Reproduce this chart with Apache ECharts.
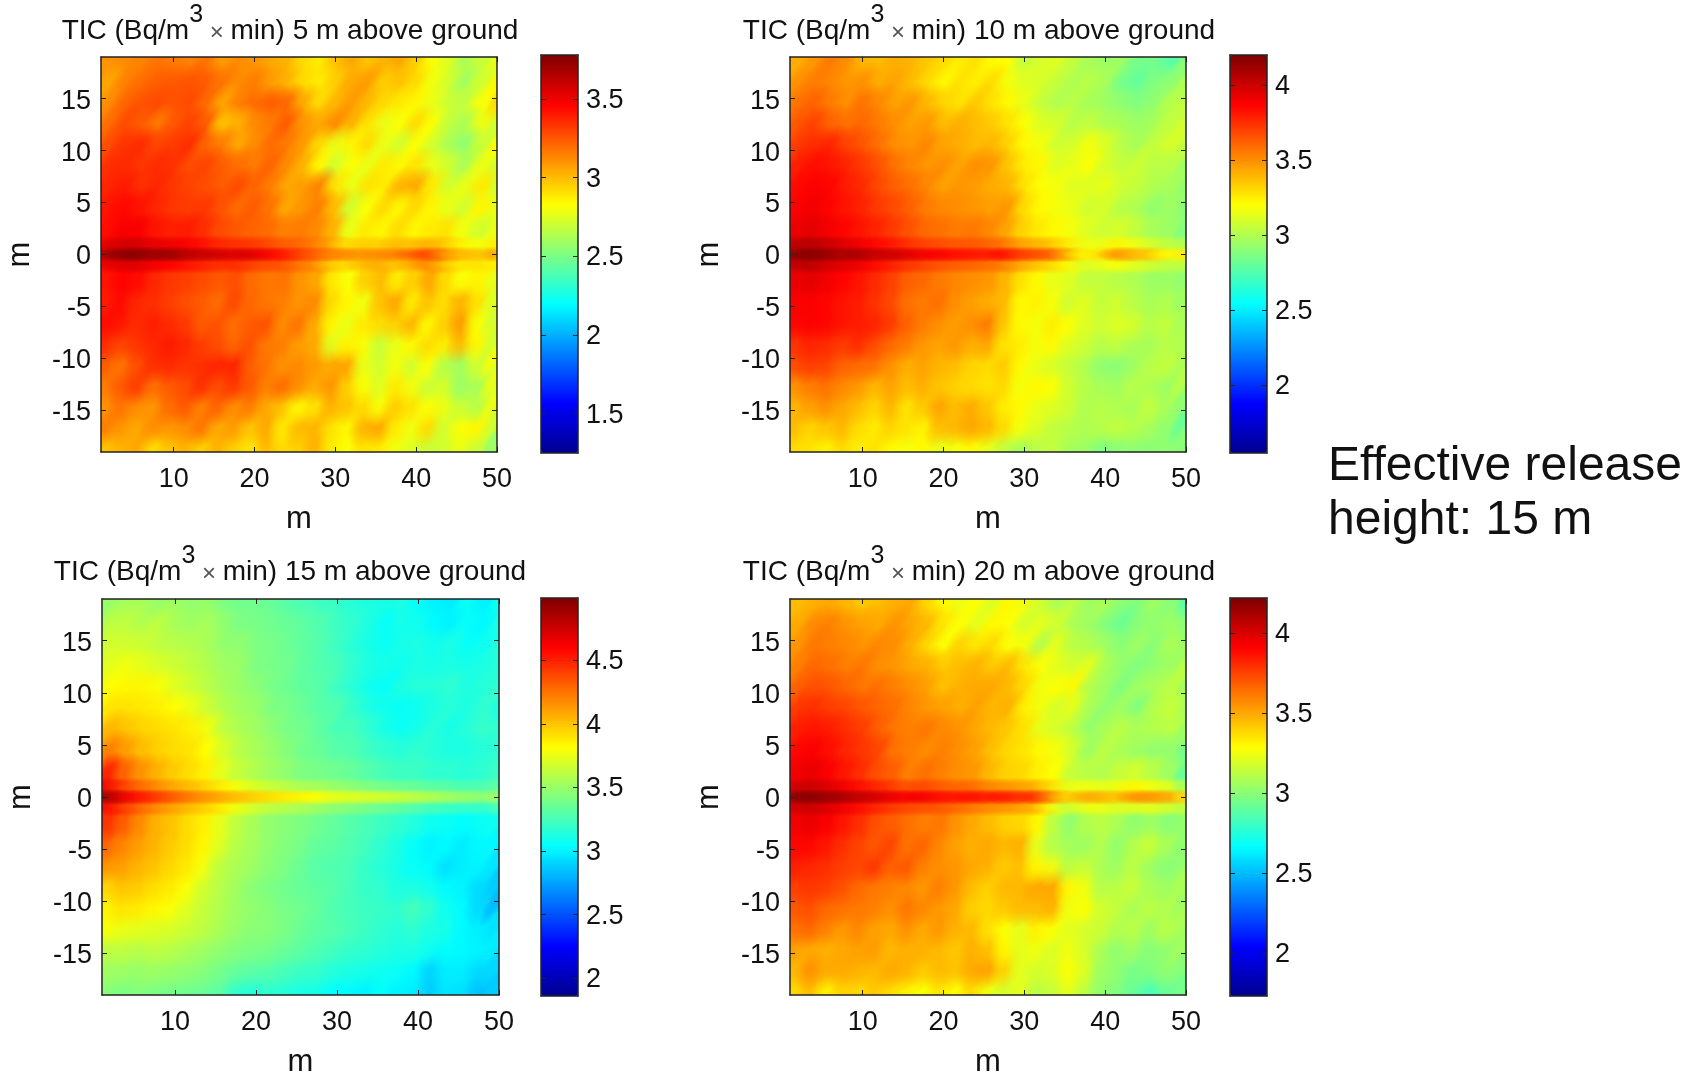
<!DOCTYPE html>
<html>
<head>
<meta charset="utf-8">
<title>TIC</title>
<script src="https://cdn.jsdelivr.net/npm/echarts@6/dist/echarts.min.js"></script>
<style>
	html, body { margin: 0; padding: 0; background: #fff; }
	#main { width: 1700px; height: 1074px; }
</style>
</head>
<body>
<div id="main"></div>
<script>
// distance along the plume (m) and across it (m)
const xCols = [2,4,6,8,10,12,14,16,18,20,22,24,26,28,30,32,34,36,38,40,42,44,46,48,50];
const yRows = [18,16,14,12,10,8,6,4,2,0.8,0,-0.8,-2,-4,-6,-8,-10,-12,-14,-16,-18];

const xTicks = [10,20,30,40,50];
const yTicks = [-15,-10,-5,0,5,10,15];

// values, one row per yRows entry
const tic5 = [
[3.10,3.12,3.14,3.18,3.16,3.14,3.18,3.08,3.12,3.10,3.05,3.02,2.92,2.88,2.98,3.05,2.98,3.02,3.05,2.95,2.82,2.75,2.62,2.70,2.78],
[3.05,3.15,3.20,3.24,3.25,3.26,3.24,3.18,3.12,3.16,3.08,3.02,2.92,2.88,2.95,3.05,3.08,2.95,2.98,2.92,2.80,2.72,2.60,2.72,2.85],
[3.12,3.22,3.26,3.28,3.26,3.28,3.20,3.05,3.15,3.20,3.24,3.22,3.05,2.92,3.02,3.08,3.00,2.92,2.88,2.85,2.78,2.70,2.68,2.82,2.92],
[3.20,3.28,3.24,3.16,3.25,3.30,3.24,2.98,3.02,3.12,3.16,3.24,3.10,3.05,3.12,3.02,2.90,2.78,2.82,2.92,2.82,2.68,2.62,2.78,2.72],
[3.28,3.34,3.36,3.30,3.32,3.35,3.22,3.16,3.05,3.12,3.20,3.16,3.08,2.92,2.78,2.85,2.92,2.78,2.72,2.82,2.72,2.62,2.55,2.70,2.82],
[3.35,3.36,3.33,3.36,3.34,3.27,3.30,3.24,3.20,3.16,3.22,3.12,3.02,2.85,2.72,2.82,2.78,2.88,2.85,2.90,2.78,2.72,2.62,2.78,2.72],
[3.38,3.40,3.35,3.37,3.33,3.30,3.27,3.24,3.28,3.22,3.15,3.05,3.08,3.15,2.90,2.78,2.90,2.88,3.02,3.05,2.88,2.72,2.78,2.88,2.72],
[3.42,3.45,3.42,3.37,3.33,3.32,3.33,3.26,3.20,3.24,3.18,3.05,3.10,3.15,3.00,2.72,2.82,2.92,2.85,2.92,2.85,2.78,2.72,2.85,2.78],
[3.44,3.48,3.48,3.42,3.39,3.40,3.35,3.28,3.25,3.22,3.20,3.15,3.16,3.12,3.02,2.78,2.88,2.85,2.92,2.85,2.88,2.90,2.80,2.72,2.78],
[3.52,3.57,3.58,3.52,3.51,3.48,3.44,3.38,3.35,3.34,3.30,3.24,3.22,3.16,3.06,2.90,2.96,2.94,3.00,2.98,3.03,2.98,2.87,2.81,2.87],
[3.68,3.74,3.76,3.70,3.72,3.64,3.60,3.58,3.54,3.56,3.48,3.42,3.32,3.24,3.14,3.12,3.10,3.12,3.14,3.22,3.30,3.12,3.00,2.98,3.04],
[3.51,3.54,3.55,3.49,3.47,3.43,3.39,3.35,3.36,3.32,3.27,3.27,3.18,3.12,2.97,2.92,3.00,3.04,2.97,3.04,3.14,2.99,2.88,2.90,2.87],
[3.42,3.46,3.44,3.37,3.33,3.31,3.28,3.25,3.27,3.20,3.17,3.18,3.10,3.05,2.88,2.82,2.95,3.00,2.88,2.95,3.05,2.92,2.82,2.85,2.78],
[3.40,3.44,3.37,3.35,3.31,3.27,3.24,3.20,3.28,3.21,3.17,3.15,3.10,3.12,2.92,2.85,2.80,2.98,3.05,2.88,2.98,2.92,3.02,2.90,2.75],
[3.44,3.41,3.36,3.39,3.36,3.32,3.24,3.26,3.19,3.24,3.26,3.12,3.18,3.04,2.85,2.78,2.88,2.92,2.95,3.02,2.85,2.95,3.08,2.82,2.72],
[3.36,3.30,3.34,3.37,3.40,3.37,3.31,3.27,3.21,3.26,3.17,3.15,3.08,3.04,2.76,2.85,2.82,2.70,2.78,2.85,2.92,2.88,3.00,2.85,2.72],
[3.24,3.18,3.27,3.35,3.37,3.34,3.35,3.37,3.38,3.23,3.18,3.10,3.12,3.08,3.04,3.05,2.78,2.72,2.80,2.72,2.82,2.65,2.60,2.72,2.80],
[3.16,3.25,3.32,3.20,3.25,3.28,3.35,3.28,3.33,3.25,3.15,3.20,3.12,3.05,3.10,2.95,2.82,2.75,2.88,2.80,2.70,2.72,2.58,2.62,2.78],
[3.10,3.18,3.12,3.10,3.20,3.25,3.15,3.22,3.12,3.16,3.05,2.98,2.85,2.90,3.02,2.98,2.92,2.82,2.95,2.90,2.82,2.78,2.70,2.65,2.78],
[3.16,3.10,3.05,3.12,3.10,3.12,3.18,3.05,3.08,2.98,3.05,2.88,3.00,3.02,2.90,2.85,3.02,3.05,2.88,2.80,2.92,2.72,2.82,2.85,2.72],
[2.98,3.02,3.05,2.92,2.98,3.02,2.95,3.02,2.95,2.90,3.00,2.92,2.95,3.02,2.88,2.82,2.90,2.88,2.80,2.75,2.70,2.72,2.78,2.70,2.58]
];
const tic10 = [
[3.42,3.48,3.55,3.50,3.40,3.38,3.42,3.40,3.35,3.30,3.25,3.28,3.22,3.20,3.05,3.10,3.12,3.05,2.98,2.95,2.95,2.85,2.85,2.78,2.90],
[3.50,3.55,3.52,3.48,3.50,3.42,3.45,3.38,3.30,3.22,3.28,3.25,3.30,3.18,3.12,3.10,3.05,3.00,3.02,2.98,2.85,2.80,2.88,2.92,3.00],
[3.58,3.62,3.55,3.50,3.58,3.52,3.45,3.48,3.40,3.32,3.28,3.35,3.28,3.22,3.15,3.05,3.00,3.02,2.98,2.95,2.92,2.88,2.92,3.02,3.05],
[3.65,3.70,3.62,3.58,3.60,3.55,3.50,3.45,3.48,3.38,3.42,3.38,3.35,3.28,3.20,3.12,3.10,3.02,3.05,3.00,2.98,2.95,2.98,3.05,3.10],
[3.72,3.76,3.78,3.70,3.65,3.58,3.50,3.48,3.52,3.45,3.42,3.38,3.40,3.32,3.22,3.18,3.08,3.10,3.18,3.12,3.02,2.98,3.05,3.10,3.05],
[3.80,3.84,3.82,3.78,3.72,3.66,3.58,3.52,3.48,3.50,3.45,3.50,3.48,3.36,3.25,3.22,3.12,3.15,3.20,3.10,3.05,3.08,3.02,3.02,2.95],
[3.85,3.88,3.86,3.80,3.76,3.68,3.62,3.58,3.52,3.45,3.48,3.46,3.42,3.40,3.28,3.20,3.18,3.12,3.12,3.15,3.08,3.05,3.00,2.98,2.92],
[3.88,3.90,3.86,3.82,3.78,3.72,3.68,3.62,3.55,3.52,3.50,3.48,3.46,3.48,3.30,3.22,3.18,3.15,3.08,3.10,3.02,3.00,2.92,2.95,2.90],
[3.92,3.94,3.90,3.86,3.82,3.78,3.72,3.66,3.60,3.58,3.55,3.56,3.52,3.44,3.32,3.26,3.22,3.18,3.12,3.08,3.10,3.05,2.98,2.95,2.88],
[4.04,4.06,4.02,3.96,3.92,3.86,3.82,3.76,3.70,3.68,3.65,3.65,3.62,3.58,3.46,3.41,3.36,3.26,3.16,3.16,3.24,3.17,3.11,3.04,3.01],
[4.16,4.18,4.14,4.08,4.10,4.02,4.00,3.96,3.90,3.88,3.84,3.82,3.80,3.84,3.72,3.68,3.62,3.40,3.22,3.30,3.50,3.40,3.35,3.22,3.25],
[4.03,4.05,3.99,3.95,3.92,3.85,3.80,3.74,3.70,3.66,3.63,3.61,3.59,3.55,3.44,3.37,3.31,3.22,3.11,3.14,3.19,3.14,3.09,3.05,3.04],
[3.92,3.94,3.90,3.86,3.82,3.76,3.70,3.62,3.60,3.55,3.52,3.50,3.48,3.40,3.28,3.22,3.15,3.12,3.05,3.05,3.02,3.00,2.95,2.95,2.92],
[3.88,3.88,3.86,3.82,3.80,3.74,3.68,3.58,3.55,3.58,3.50,3.46,3.42,3.38,3.22,3.24,3.18,3.08,3.12,3.05,3.08,3.02,2.98,3.00,2.95],
[3.86,3.88,3.86,3.82,3.80,3.78,3.72,3.62,3.55,3.50,3.46,3.50,3.55,3.35,3.22,3.18,3.25,3.20,3.12,3.08,3.12,3.10,3.02,3.05,2.98],
[3.74,3.78,3.76,3.72,3.76,3.68,3.60,3.55,3.48,3.45,3.48,3.42,3.44,3.28,3.25,3.18,3.22,3.12,3.08,3.02,3.05,3.00,2.98,3.02,3.00],
[3.68,3.72,3.70,3.62,3.60,3.58,3.50,3.42,3.45,3.40,3.38,3.32,3.30,3.34,3.22,3.15,3.10,3.05,3.00,2.92,2.90,2.95,3.02,3.05,3.00],
[3.50,3.55,3.58,3.52,3.48,3.40,3.45,3.38,3.42,3.36,3.32,3.30,3.28,3.30,3.18,3.22,3.20,3.08,3.02,2.98,2.96,3.02,3.00,2.95,3.02],
[3.40,3.46,3.50,3.44,3.38,3.32,3.40,3.28,3.35,3.45,3.38,3.42,3.35,3.25,3.22,3.15,3.12,3.08,3.00,3.02,3.00,2.98,3.05,2.98,2.92],
[3.38,3.32,3.36,3.40,3.30,3.26,3.32,3.28,3.24,3.38,3.40,3.44,3.40,3.30,3.18,3.12,3.05,3.02,3.00,3.02,3.05,3.02,2.98,2.92,2.82],
[3.30,3.28,3.24,3.30,3.25,3.28,3.22,3.18,3.22,3.15,3.18,3.22,3.15,3.05,2.98,3.02,3.05,2.98,2.95,2.88,2.90,2.92,2.90,2.92,2.90]
];
const tic15 = [
[3.50,3.55,3.55,3.50,3.52,3.48,3.50,3.42,3.38,3.38,3.35,3.30,3.26,3.22,3.20,3.15,3.12,3.10,3.12,3.05,3.00,2.98,3.06,3.00,3.08],
[3.62,3.62,3.58,3.62,3.55,3.52,3.55,3.48,3.42,3.40,3.38,3.35,3.32,3.28,3.22,3.18,3.12,3.05,3.10,3.08,3.02,3.00,3.05,3.02,3.10],
[3.68,3.68,3.66,3.62,3.60,3.58,3.55,3.48,3.48,3.42,3.40,3.36,3.32,3.28,3.22,3.15,3.10,3.06,3.10,3.12,3.08,3.12,3.05,3.08,3.15],
[3.74,3.78,3.74,3.70,3.66,3.62,3.58,3.52,3.50,3.42,3.40,3.38,3.32,3.28,3.25,3.18,3.12,3.10,3.08,3.12,3.10,3.12,3.10,3.12,3.15],
[3.82,3.84,3.84,3.80,3.72,3.66,3.60,3.54,3.50,3.46,3.40,3.36,3.32,3.30,3.22,3.15,3.08,3.05,3.12,3.15,3.15,3.18,3.12,3.15,3.18],
[3.90,3.90,3.88,3.86,3.82,3.76,3.66,3.58,3.53,3.50,3.42,3.40,3.35,3.30,3.28,3.20,3.12,3.08,3.05,3.08,3.12,3.15,3.12,3.18,3.12],
[4.05,4.00,3.95,3.92,3.90,3.86,3.78,3.62,3.56,3.52,3.46,3.40,3.38,3.32,3.25,3.25,3.18,3.10,3.06,3.10,3.15,3.10,3.15,3.20,3.18],
[4.22,4.12,4.02,3.96,3.92,3.90,3.82,3.70,3.60,3.55,3.50,3.44,3.38,3.35,3.30,3.28,3.22,3.18,3.15,3.18,3.15,3.12,3.12,3.15,3.18],
[4.50,4.30,4.16,4.06,3.98,3.92,3.86,3.74,3.64,3.58,3.52,3.48,3.42,3.40,3.38,3.35,3.30,3.25,3.22,3.22,3.18,3.18,3.15,3.18,3.22],
[4.65,4.43,4.30,4.20,4.11,4.04,3.98,3.89,3.80,3.72,3.66,3.62,3.57,3.55,3.51,3.48,3.44,3.40,3.37,3.36,3.32,3.31,3.27,3.28,3.32],
[4.94,4.68,4.55,4.45,4.35,4.25,4.16,4.10,4.02,3.98,3.92,3.88,3.85,3.82,3.74,3.72,3.70,3.68,3.65,3.62,3.58,3.54,3.50,3.48,3.52],
[4.62,4.44,4.31,4.20,4.12,4.04,3.98,3.90,3.79,3.70,3.63,3.60,3.57,3.53,3.48,3.45,3.41,3.38,3.34,3.31,3.25,3.23,3.20,3.21,3.25],
[4.45,4.32,4.18,4.06,4.00,3.92,3.86,3.74,3.62,3.55,3.48,3.45,3.42,3.38,3.34,3.30,3.26,3.22,3.18,3.14,3.08,3.06,3.04,3.06,3.08],
[4.30,4.20,4.12,4.05,3.98,3.92,3.84,3.72,3.60,3.54,3.48,3.44,3.40,3.34,3.32,3.28,3.24,3.18,3.12,3.05,3.00,3.02,2.98,3.02,3.02],
[4.15,4.12,4.05,4.00,3.94,3.88,3.78,3.62,3.56,3.52,3.46,3.42,3.36,3.30,3.28,3.26,3.20,3.15,3.10,3.05,3.02,2.94,2.98,3.00,2.96],
[3.95,4.00,3.98,3.92,3.88,3.80,3.68,3.60,3.53,3.46,3.42,3.38,3.35,3.32,3.30,3.25,3.20,3.18,3.12,3.12,3.08,3.02,3.00,2.92,2.88],
[3.85,3.90,3.88,3.84,3.80,3.72,3.64,3.58,3.52,3.48,3.45,3.40,3.38,3.34,3.28,3.25,3.22,3.20,3.18,3.25,3.18,3.08,3.02,2.92,2.82],
[3.80,3.76,3.74,3.72,3.70,3.66,3.62,3.56,3.50,3.46,3.45,3.42,3.36,3.32,3.30,3.26,3.22,3.18,3.15,3.18,3.12,3.10,3.02,2.98,2.95],
[3.62,3.62,3.60,3.62,3.60,3.56,3.52,3.48,3.44,3.42,3.40,3.36,3.32,3.28,3.24,3.20,3.18,3.15,3.12,3.12,3.08,3.04,3.02,3.00,2.98],
[3.52,3.52,3.50,3.52,3.50,3.48,3.45,3.40,3.35,3.32,3.30,3.26,3.22,3.20,3.15,3.12,3.10,3.08,3.06,3.02,2.90,2.98,2.98,2.92,2.92],
[3.45,3.42,3.44,3.42,3.40,3.38,3.36,3.32,3.20,3.15,3.18,3.15,3.12,3.10,3.04,3.02,3.00,3.04,3.00,2.98,2.88,2.96,2.94,2.85,2.88]
];
const tic20 = [
[3.45,3.48,3.50,3.46,3.42,3.45,3.48,3.50,3.38,3.30,3.24,3.28,3.20,3.30,3.25,3.18,3.08,3.12,3.05,3.08,3.00,2.98,3.05,3.00,2.88],
[3.50,3.58,3.60,3.55,3.52,3.50,3.55,3.50,3.46,3.35,3.28,3.22,3.30,3.28,3.18,3.22,3.18,3.08,3.05,2.98,2.92,3.00,3.02,3.05,3.00],
[3.55,3.62,3.60,3.58,3.55,3.58,3.56,3.48,3.38,3.28,3.40,3.35,3.38,3.28,3.26,3.10,3.22,3.12,3.10,3.05,3.00,3.05,3.00,3.08,3.05],
[3.60,3.66,3.64,3.60,3.62,3.56,3.54,3.50,3.48,3.42,3.45,3.48,3.42,3.46,3.35,3.28,3.22,3.18,3.22,3.08,3.02,2.98,3.02,3.05,3.12],
[3.68,3.72,3.70,3.66,3.62,3.64,3.60,3.56,3.52,3.44,3.48,3.50,3.50,3.46,3.38,3.25,3.28,3.30,3.10,3.05,2.98,3.05,3.08,3.12,3.05],
[3.78,3.80,3.76,3.74,3.70,3.66,3.64,3.58,3.54,3.52,3.48,3.52,3.46,3.48,3.32,3.25,3.18,3.22,3.08,3.02,3.05,2.98,3.10,3.15,3.08],
[3.84,3.86,3.84,3.80,3.76,3.68,3.62,3.60,3.62,3.58,3.55,3.50,3.45,3.42,3.36,3.22,3.18,3.12,3.02,3.08,3.12,3.08,3.10,3.12,3.05],
[3.90,3.92,3.88,3.82,3.78,3.74,3.63,3.60,3.57,3.60,3.56,3.52,3.44,3.38,3.35,3.30,3.26,3.18,3.05,3.12,3.08,3.05,3.02,3.02,2.95],
[3.94,3.96,3.92,3.86,3.80,3.72,3.68,3.60,3.64,3.60,3.56,3.54,3.46,3.40,3.38,3.32,3.28,3.15,3.12,3.10,3.15,3.18,3.12,3.05,2.92],
[4.02,4.04,4.00,3.95,3.89,3.83,3.78,3.71,3.74,3.70,3.66,3.66,3.59,3.56,3.53,3.49,3.37,3.23,3.25,3.23,3.24,3.31,3.27,3.21,3.08],
[4.18,4.20,4.16,4.12,4.06,4.02,3.96,3.92,3.94,3.88,3.86,3.88,3.84,3.86,3.80,3.80,3.55,3.38,3.50,3.48,3.42,3.55,3.55,3.50,3.38],
[4.02,4.04,4.00,3.95,3.89,3.83,3.78,3.74,3.72,3.71,3.66,3.63,3.58,3.56,3.53,3.47,3.27,3.15,3.24,3.25,3.20,3.21,3.23,3.18,3.14],
[3.94,3.96,3.92,3.86,3.80,3.72,3.68,3.64,3.60,3.62,3.55,3.50,3.45,3.40,3.38,3.30,3.12,3.02,3.10,3.12,3.08,3.02,3.05,3.00,3.02],
[3.90,3.90,3.86,3.80,3.75,3.70,3.74,3.63,3.66,3.58,3.52,3.48,3.50,3.46,3.48,3.22,3.10,3.06,3.05,3.10,3.02,3.10,3.15,3.08,3.02],
[3.84,3.82,3.80,3.76,3.74,3.78,3.68,3.70,3.60,3.56,3.54,3.50,3.48,3.42,3.44,3.30,3.25,3.12,3.15,3.08,3.05,3.12,3.05,3.00,3.02],
[3.76,3.78,3.76,3.72,3.66,3.62,3.60,3.58,3.54,3.60,3.54,3.45,3.40,3.46,3.46,3.50,3.50,3.30,3.25,3.10,3.12,3.15,3.08,3.05,3.08],
[3.70,3.72,3.66,3.64,3.62,3.60,3.56,3.62,3.58,3.54,3.50,3.40,3.38,3.42,3.46,3.46,3.48,3.25,3.28,3.18,3.14,3.08,3.12,3.10,3.05],
[3.64,3.66,3.60,3.54,3.58,3.52,3.50,3.56,3.50,3.54,3.48,3.46,3.36,3.28,3.22,3.32,3.28,3.22,3.18,3.16,3.10,3.12,3.05,3.12,3.08],
[3.52,3.50,3.48,3.50,3.52,3.53,3.46,3.48,3.48,3.46,3.42,3.48,3.44,3.30,3.22,3.25,3.20,3.25,3.18,3.08,3.02,3.05,3.00,3.02,3.06],
[3.46,3.56,3.50,3.50,3.48,3.46,3.50,3.48,3.42,3.46,3.44,3.50,3.52,3.40,3.22,3.18,3.20,3.28,3.20,3.05,3.02,2.95,2.98,3.02,3.00],
[3.38,3.45,3.32,3.40,3.38,3.42,3.38,3.32,3.28,3.35,3.28,3.38,3.25,3.18,3.22,3.12,3.15,3.22,3.12,3.02,2.98,2.92,2.85,2.92,2.95]
];

const panelNames = ['5 m', '10 m', '15 m', '20 m'];
const panelData = [tic5, tic10, tic15, tic20];
const barMin = [1.25, 1.55, 1.86, 1.73];
const barMax = [3.78, 4.2, 4.99, 4.22];
const barTicks = [
	[1.5,2,2.5,3,3.5],
	[2,2.5,3,3.5,4],
	[2,2.5,3,3.5,4,4.5],
	[2,2.5,3,3.5,4]
];

const jet = ['#00008f','#0000ff','#0080ff','#00ffff','#80ff80','#ffff00','#ff8000','#ff0000','#800000'];
const fontName = '"Liberation Sans", Arial, sans-serif';
const textColor = '#111';

// where each panel sits on the page
const plotBox = [
	{ left: 101, top: 57, width: 396, height: 395, barLeft: 541, barTop: 55, barHeight: 398, titleX: 290, titleY: 5 },
	{ left: 790, top: 57, width: 396, height: 395, barLeft: 1230, barTop: 55, barHeight: 398, titleX: 979, titleY: 5 },
	{ left: 102, top: 599, width: 397, height: 396, barLeft: 541, barTop: 598, barHeight: 398, titleX: 290, titleY: 546 },
	{ left: 790, top: 599, width: 396, height: 396, barLeft: 1230, barTop: 598, barHeight: 398, titleX: 979, titleY: 546 }
];

function cellEdges(list, lo, hi) {
	let out = [];
	for (let i = 0; i < list.length; i++) {
		let a = i == 0 ? lo : (list[i - 1] + list[i]) / 2;
		let b = i == list.length - 1 ? hi : (list[i] + list[i + 1]) / 2;
		out.push([a, b]);
	}
	return out;
}

// rows furthest from the centre line go first so the thin line stays on top
function buildCells(rows) {
	let xe = cellEdges(xCols, 1, 50);
	let ye = cellEdges(yRows, 19, -19);
	let order = yRows.map(function (y, i) { return i; }).sort(function (a, b) {
		return Math.abs(yRows[b]) - Math.abs(yRows[a]);
	});
	let cells = [];
	order.forEach(function (r) {
		rows[r].forEach(function (v, c) {
			cells.push([xe[c][0], xe[c][1], ye[r][0], ye[r][1], v]);
		});
	});
	return cells;
}

// the rows next to the centre line stretch under it, the thin rows only get soft patches
function renderBase(params, api) {
	let y0 = api.value(2), y1 = api.value(3);
	if (Math.abs(y0) < 2 && Math.abs(y1) < 2) {
		return null;
	}
	if (Math.abs(y0) < 2) { y0 = 0; }
	if (Math.abs(y1) < 2) { y1 = 0; }
	let a = api.coord([api.value(0), y0]);
	let b = api.coord([api.value(1), y1]);
	return {
		type: 'rect',
		shape: { x: a[0], y: a[1], width: b[0] - a[0] + 1, height: b[1] - a[1] + 1 },
		style: { fill: api.visual('color') }
	};
}

// soft patch over each cell, leaning like the grain in the picture
function renderSoft(params, api) {
	let a = api.coord([api.value(0), api.value(2)]);
	let b = api.coord([api.value(1), api.value(3)]);
	let color = api.visual('color');
	let w = Math.abs(b[0] - a[0]), h = Math.abs(b[1] - a[1]);
	let thin = h < 15;
	return {
		type: 'circle',
		x: (a[0] + b[0]) / 2,
		y: (a[1] + b[1]) / 2,
		scaleX: thin ? w * 1.6 : w * 1.0,
		scaleY: thin ? h * 1.0 : h * 1.45,
		rotation: thin ? 0 : -0.5,
		shape: { cx: 0, cy: 0, r: 1 },
		style: {
			fill: new echarts.graphic.RadialGradient(0.5, 0.5, 0.5, [
				{ offset: 0, color: color },
				{ offset: thin ? 0.35 : 0.45, color: echarts.color.modifyAlpha(color, 0.8) },
				{ offset: 1, color: echarts.color.modifyAlpha(color, 0) }
			])
		}
	};
}

function frameAxis(extra) {
	return Object.assign({
		type: 'value',
		z: 10,
		splitLine: { show: false },
		axisLine: { show: true, onZero: false, lineStyle: { color: '#222', width: 1.5 } },
		axisTick: { show: false },
		axisLabel: { show: false }
	}, extra);
}

function tickStyle(values) {
	return { show: true, inside: true, length: 5, customValues: values, lineStyle: { color: '#222' } };
}

// drop is how far the digits sit below their tick, as in the picture
function labelStyle(values, margin, drop) {
	return {
		show: true,
		customValues: values,
		margin: margin,
		formatter: function (v) { return '{v|' + v + '}'; },
		rich: { v: { fontSize: 27, fontFamily: fontName, color: textColor, padding: [drop, 0, 0, 0] } }
	};
}

let option = {
	animation: false,
	backgroundColor: '#fff',
	title: [],
	grid: [],
	xAxis: [],
	yAxis: [],
	series: [],
	visualMap: [],
	graphic: [{
		type: 'text',
		left: 1328,
		top: 440,
		style: {
			text: 'Effective release\nheight: 15 m',
			fontSize: 48,
			lineHeight: 54,
			fontFamily: fontName,
			fill: textColor
		}
	}]
};

plotBox.forEach(function (box, i) {
	let gridA = i * 2, gridB = i * 2 + 1;
	let cells = buildCells(panelData[i]);

	option.title.push({
		text: '{a|TIC (Bq/m}{s|3}{x| × }{a|min) ' + panelNames[i] + ' above ground}',
		left: box.titleX,
		top: box.titleY,
		textAlign: 'center',
		padding: 0,
		textStyle: {
			fontWeight: 'normal',
			rich: {
				a: { fontSize: 28, fontWeight: 'normal', fontFamily: fontName, color: textColor, lineHeight: 40, verticalAlign: 'bottom' },
				s: { fontSize: 25, fontWeight: 'normal', fontFamily: fontName, color: textColor, lineHeight: 40, padding: [0, 0, 17, 0], verticalAlign: 'bottom' },
				x: { fontSize: 24, fontWeight: 'normal', fontFamily: fontName, color: '#555', lineHeight: 40, verticalAlign: 'bottom' }
			}
		}
	});

	option.grid.push({ left: box.left, top: box.top, width: box.width, height: box.height, outerBoundsMode: 'none' });
	option.grid.push({ left: box.barLeft, top: box.barTop, width: 37, height: box.barHeight, outerBoundsMode: 'none' });

	option.xAxis.push(frameAxis({
		gridIndex: gridA, position: 'bottom', min: 1, max: 50,
		axisTick: tickStyle(xTicks), axisLabel: labelStyle(xTicks, 14, 0),
		name: 'm', nameLocation: 'middle', nameGap: 52,
		nameTextStyle: { fontSize: 31, fontFamily: fontName, color: textColor }
	}));
	option.xAxis.push(frameAxis({ gridIndex: gridA, position: 'top', min: 1, max: 50, axisTick: tickStyle(xTicks) }));
	option.xAxis.push(frameAxis({ gridIndex: gridB, position: 'bottom', min: 0, max: 1 }));
	option.xAxis.push(frameAxis({ gridIndex: gridB, position: 'top', min: 0, max: 1 }));

	option.yAxis.push(frameAxis({
		gridIndex: gridA, position: 'left', min: -19, max: 19,
		axisTick: tickStyle(yTicks), axisLabel: labelStyle(yTicks, 10, 5),
		name: 'm', nameLocation: 'middle', nameGap: 65,
		nameTextStyle: { fontSize: 31, fontFamily: fontName, color: textColor }
	}));
	option.yAxis.push(frameAxis({ gridIndex: gridA, position: 'right', min: -19, max: 19, axisTick: tickStyle(yTicks) }));
	option.yAxis.push(frameAxis({
		gridIndex: gridB, position: 'left', min: barMin[i], max: barMax[i],
		axisTick: tickStyle(barTicks[i])
	}));
	option.yAxis.push(frameAxis({
		gridIndex: gridB, position: 'right', min: barMin[i], max: barMax[i],
		axisTick: tickStyle(barTicks[i]), axisLabel: labelStyle(barTicks[i], 8, 3)
	}));

	[renderBase, renderSoft].forEach(function (fn) {
		option.series.push({
			type: 'custom',
			renderItem: fn,
			xAxisIndex: i * 4,
			yAxisIndex: i * 4,
			clip: true,
			silent: true,
			progressive: 0,
			encode: { x: [0, 1], y: [2, 3] },
			data: cells
		});
	});

	option.visualMap.push({
		type: 'continuous',
		seriesIndex: [i * 2, i * 2 + 1],
		dimension: 4,
		min: barMin[i],
		max: barMax[i],
		inRange: { color: jet },
		left: box.barLeft,
		top: box.barTop,
		itemWidth: 37,
		itemHeight: box.barHeight,
		padding: 0,
		calculable: false,
		hoverLink: false
	});
});

let myChart = echarts.init(document.getElementById('main'));
myChart.setOption(option);
</script>
</body>
</html>
